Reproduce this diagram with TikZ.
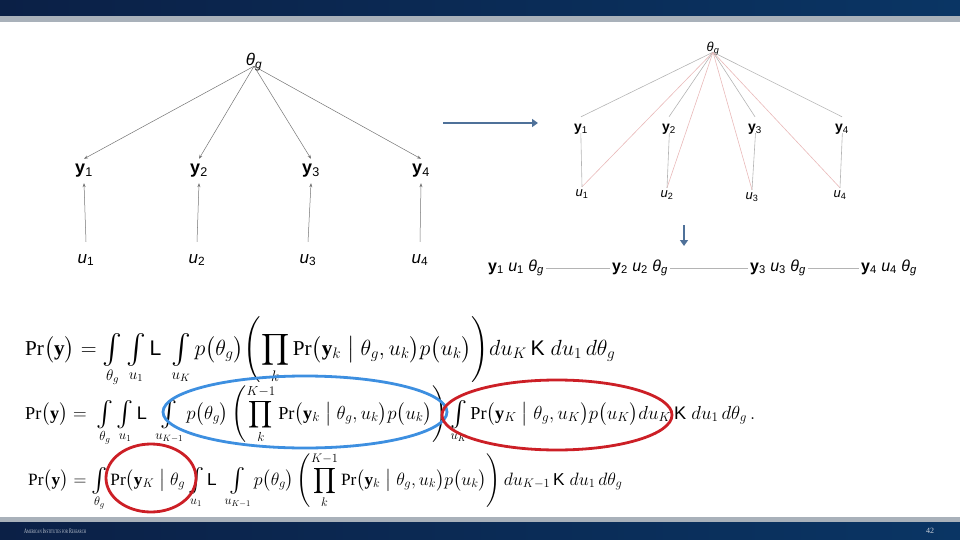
\documentclass[tikz,border=0pt]{standalone}
\usepackage{amsmath}
\usepackage{graphicx}
\usepackage{fontspec}
\setmainfont{Liberation Serif}
\setsansfont{Liberation Sans}
\usetikzlibrary{arrows.meta}
\definecolor{navyL}{HTML}{0B2046}
\definecolor{navyR}{HTML}{0A3564}
\definecolor{bandgray}{HTML}{A9B1BA}
\definecolor{arrblue}{HTML}{4F7199}
\definecolor{ellblue}{HTML}{3D8FE0}
\definecolor{ellred}{HTML}{CC1F26}
\definecolor{pinkline}{HTML}{E9B9B9}
\definecolor{grayline}{HTML}{B4B4B4}
\definecolor{footgray}{HTML}{C9D0DA}
\newcommand{\Yl}[1]{\textbf{y}\textsubscript{#1}}
\newcommand{\Ul}[1]{\textit{u}\textsubscript{#1}}
\newcommand{\TG}{\textit{θ}\textsubscript{\textit{g}}}
\newcommand{\bfy}{\mathbf{y}}
\newcommand{\Int}[1]{\mathop{\vcenter{\hbox{\scalebox{1.35}{$\textstyle\int$}}}}\limits_{#1}}
\begin{document}
\begin{tikzpicture}[x=1pt,y=-1pt,
  ly/.style={font=\fontsize{18}{20}\selectfont\sffamily, inner sep=0pt, minimum height=24pt},
  lu/.style={font=\fontsize{17}{20}\selectfont\sffamily, inner sep=0pt, minimum height=36pt},
  ry/.style={font=\fontsize{14}{16}\selectfont\sffamily, inner sep=0pt, minimum height=24pt},
  ru/.style={font=\fontsize{13}{15}\selectfont\sffamily, inner sep=0pt, minimum height=14pt},
  tgs/.style={inner sep=0pt, text depth=0pt, anchor=base},
  ch/.style={font=\fontsize{16}{18}\selectfont\sffamily, inner sep=2pt},
  larr/.style={draw=black!55, line width=0.5pt, -{Stealth[length=4pt,width=3pt]}},
  gline/.style={draw=grayline, line width=0.6pt},
  pline/.style={draw=pinkline, line width=0.6pt},
  bigarr/.style={draw=arrblue, line width=2.6pt, -{Triangle[length=6pt,width=8pt]}},
  eq/.style={anchor=base west, inner sep=0pt, font=\fontsize{20}{24}\selectfont},
  ell/.style={line width=2.8pt}
]
\useasboundingbox (0,0) rectangle (960,540);
% header and footer bands
\shade[left color=navyL, right color=navyR] (0,0) rectangle (960,16);
\fill[bandgray] (0,16) rectangle (960,22);
\fill[bandgray] (0,517) rectangle (960,522);
\shade[left color=navyL, right color=navyR] (0,522) rectangle (960,540);
\node[anchor=west, inner sep=0pt, text=footgray] (foot) at (24,531)
  {\resizebox{62pt}{4.5pt}{\fontsize{8}{9}\selectfont A{\fontsize{6}{7}\selectfont MERICAN} I{\fontsize{6}{7}\selectfont NSTITUTES FOR} R{\fontsize{6}{7}\selectfont ESEARCH}}};
\node[inner sep=0pt, text=footgray, font=\fontsize{8}{9}\selectfont] (pg) at (930,531) {42};

% left tree
\node[tgs, font=\fontsize{17}{20}\selectfont\sffamily] (tg) at (254,66) {\TG};
\node[ly] (y1) at (84,171) {\Yl{1}};
\node[ly] (y2) at (199,171) {\Yl{2}};
\node[ly] (y3) at (311,171) {\Yl{3}};
\node[ly] (y4) at (421,171) {\Yl{4}};
\node[lu] (u1) at (86,260) {\Ul{1}};
\node[lu] (u2) at (197,260) {\Ul{2}};
\node[lu] (u3) at (308,260) {\Ul{3}};
\node[lu] (u4) at (420,260) {\Ul{4}};
\foreach \i in {1,...,4}{
  \draw[larr] (tg.south) -- (y\i.north);
  \draw[larr] (u\i.north) -- (y\i.south);
}

% big arrows
\coordinate (ha) at (443,123);
\coordinate (hb) at (538,123);
\draw[bigarr] (ha) -- (hb);
\coordinate (va) at (684,225);
\coordinate (vb) at (684,246);
\draw[bigarr] (va) -- (vb);

% right tree
\node[tgs, font=\fontsize{13}{15}\selectfont\sffamily] (tg2) at (713,52) {\TG};
\node[ry] (ry1) at (581,129) {\Yl{1}};
\node[ry] (ry2) at (669,129) {\Yl{2}};
\node[ry] (ry3) at (755,129) {\Yl{3}};
\node[ry] (ry4) at (842,129) {\Yl{4}};
\node[ru] (ru1) at (582,194) {\Ul{1}};
\node[ru] (ru2) at (667,195) {\Ul{2}};
\node[ru] (ru3) at (752,197) {\Ul{3}};
\node[ru] (ru4) at (840,195) {\Ul{4}};
\foreach \i in {1,...,4}{
  \draw[gline] (tg2.south) -- (ry\i.north);
  \draw[pline] (tg2.south) -- (ru\i.north);
  \draw[gline, shorten <=-8pt] (ry\i.south) -- (ru\i.north);
}

% chain
\node[ch] (c1) at (516,268) {\Yl{1} \Ul{1} \TG};
\node[ch] (c2) at (640,268) {\Yl{2} \Ul{2} \TG};
\node[ch] (c3) at (778,268) {\Yl{3} \Ul{3} \TG};
\node[ch] (c4) at (889,268) {\Yl{4} \Ul{4} \TG};
\draw[gline] (c1) -- (c2);
\draw[gline] (c2) -- (c3);
\draw[gline] (c3) -- (c4);

% equations
\node[eq] (eq1) at (25,355) {\resizebox{590pt}{!}{$\displaystyle
 \Pr\bigl(\bfy\bigr)= \Int{\theta_g}\Int{u_1}\textsf{L}\;\Int{u_K} p\bigl(\theta_g\bigr)\Biggl(\prod_k \Pr\bigl(\bfy_k\bigm|\theta_g,u_k\bigr)p\bigl(u_k\bigr)\Biggr)du_K\,\textsf{K}\;du_1\,d\theta_g$}};
\node[eq] (eq2) at (25,419) {\resizebox{730pt}{!}{$\displaystyle
 \Pr\bigl(\bfy\bigr)=\ \Int{\theta_g}\Int{u_1}\textsf{L}\;\Int{u_{K-1}} p\bigl(\theta_g\bigr)\left(\prod_k^{K-1}\Pr\bigl(\bfy_k\bigm|\theta_g,u_k\bigr)p\bigl(u_k\bigr)\right)\Int{u_K}\Pr\bigl(\bfy_K\bigm|\theta_g,u_K\bigr)p\bigl(u_K\bigr)du_K\,\textsf{K}\;du_1\,d\theta_g\,.$}};
\node[eq] (eq3) at (28,485) {\resizebox{594pt}{!}{$\displaystyle
 \Pr\bigl(\bfy\bigr)=\Int{\theta_g}\Pr\bigl(\bfy_K\bigm|\theta_g\Int{u_1}\textsf{L}\;\Int{u_{K-1}} p\bigl(\theta_g\bigr)\left(\prod_k^{K-1}\Pr\bigl(\bfy_k\bigm|\theta_g,u_k\bigr)p\bigl(u_k\bigr)\right)du_{K-1}\,\textsf{K}\;du_1\,d\theta_g$}};

% highlight ellipses
\draw[ell, ellblue] (305,412) ellipse [x radius=142, y radius=36];
\draw[ell, ellred] (557,415) ellipse [x radius=115, y radius=35];
\draw[ell, ellred] (151,478) ellipse [x radius=45, y radius=34];
\end{tikzpicture}
\end{document}
